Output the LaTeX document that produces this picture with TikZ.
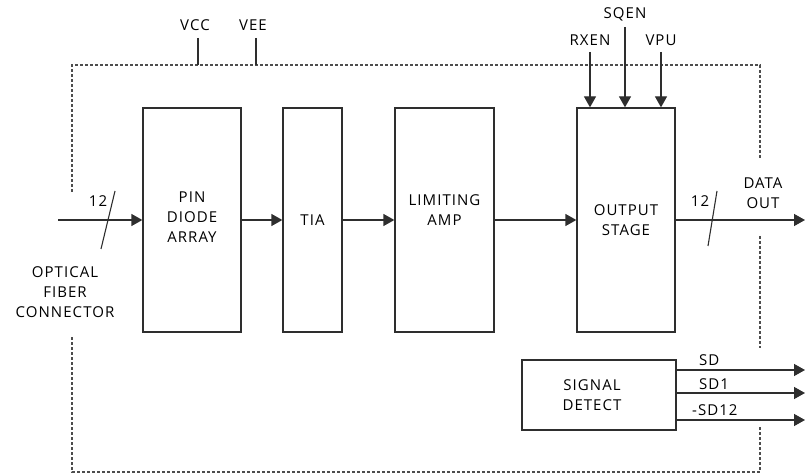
\documentclass[tikz,border=0pt]{standalone}
\usepackage{fontspec}
\setmainfont{Open Sans}
\usetikzlibrary{arrows.meta}
\definecolor{ln}{HTML}{2E2E2E}
\begin{document}
\begin{tikzpicture}[x=1pt,y=-1pt,
  blk/.style={draw=ln,line width=1.3pt,minimum width=0,inner sep=0},
  lbl/.style={font=\fontsize{15}{20}\selectfont\addfontfeatures{LetterSpace=7},text=black,align=center,inner sep=0},
  sig/.style={draw=ln,line width=1.3pt,-{Triangle[length=11pt,width=12pt]}},
  wire/.style={draw=ln,line width=1.3pt},
  bord/.style={draw=ln!85,line width=1.1pt,dash pattern=on 3pt off 2pt}]
\useasboundingbox (0,0) rectangle (807,476);
% border
\draw[bord] (72,192) -- (72,65) -- (760,65) -- (760,158);
\draw[bord] (760,236) -- (760,348);
\draw[bord] (72,337) -- (72,472) -- (760,472) -- (760,427);
% blocks
\node[blk,minimum width=98,minimum height=224] (pin) at (192,220) {};
\node[blk,minimum width=59,minimum height=224] (tia) at (312.5,220) {};
\node[blk,minimum width=99,minimum height=224] (lim) at (444.5,220) {};
\node[blk,minimum width=98,minimum height=224] (out) at (626,220) {};
\node[blk,minimum width=154,minimum height=70] (sd) at (599,395) {};
\node[lbl] at (192,217) {PIN\\DIODE\\ARRAY};
\node[lbl] at (312.5,220) {TIA};
\node[lbl] at (444.5,210) {LIMITING\\AMP};
\node[lbl] at (626,220) {OUTPUT\\STAGE};
\node[lbl] at (592,395) {SIGNAL\\DETECT};
% supply
\node[lbl] (vcc) at (195,25) {VCC};
\node[lbl] (vee) at (253,25) {VEE};
\draw[wire] (198,38) -- (198,65);
\draw[wire] (256,38) -- (256,65);
% control inputs
\node[lbl] (rxen) at (590,40) {RXEN};
\node[lbl] (sqen) at (625,14) {SQEN};
\node[lbl] (vpu) at (661,40) {VPU};
\coordinate (rxa) at (590,52);
\coordinate (sqa) at (625,27);
\coordinate (vpa) at (661,52);
\draw[sig] (rxa) -- (rxa |- out.north);
\draw[sig] (sqa) -- (sqa |- out.north);
\draw[sig] (vpa) -- (vpa |- out.north);
% data path
\coordinate (inS) at (58,220);
\draw[sig] (inS) -- (pin.west);
\draw[sig] (pin.east) -- (tia.west);
\draw[sig] (tia.east) -- (lim.west);
\draw[sig] (lim.east) -- (out.west);
\coordinate (dout) at (805,220);
\draw[sig] (out.east) -- (dout);
\draw[wire,line width=1.1pt] (115,191) -- (101,249);
\draw[wire,line width=1.1pt] (717,191) -- (708,246);
\node[lbl] at (98,201) {12};
\node[lbl] at (700,201) {12};
\node[lbl] at (763,193) {DATA\\OUT};
\node[lbl] at (65,292) {OPTICAL\\FIBER\\CONNECTOR};
% signal detect outputs
\coordinate (o1) at (805,370);
\coordinate (o2) at (805,393);
\coordinate (o3) at (805,420);
\draw[sig] (sd.east |- o1) -- (o1);
\draw[sig] (sd.east |- o2) -- (o2);
\draw[sig] (sd.east |- o3) -- (o3);
\node[lbl,anchor=west] at (699,360) {SD};
\node[lbl,anchor=west] at (699,384) {SD1};
\node[lbl,anchor=west] at (692,410) {-SD12};
\end{tikzpicture}
\end{document}
